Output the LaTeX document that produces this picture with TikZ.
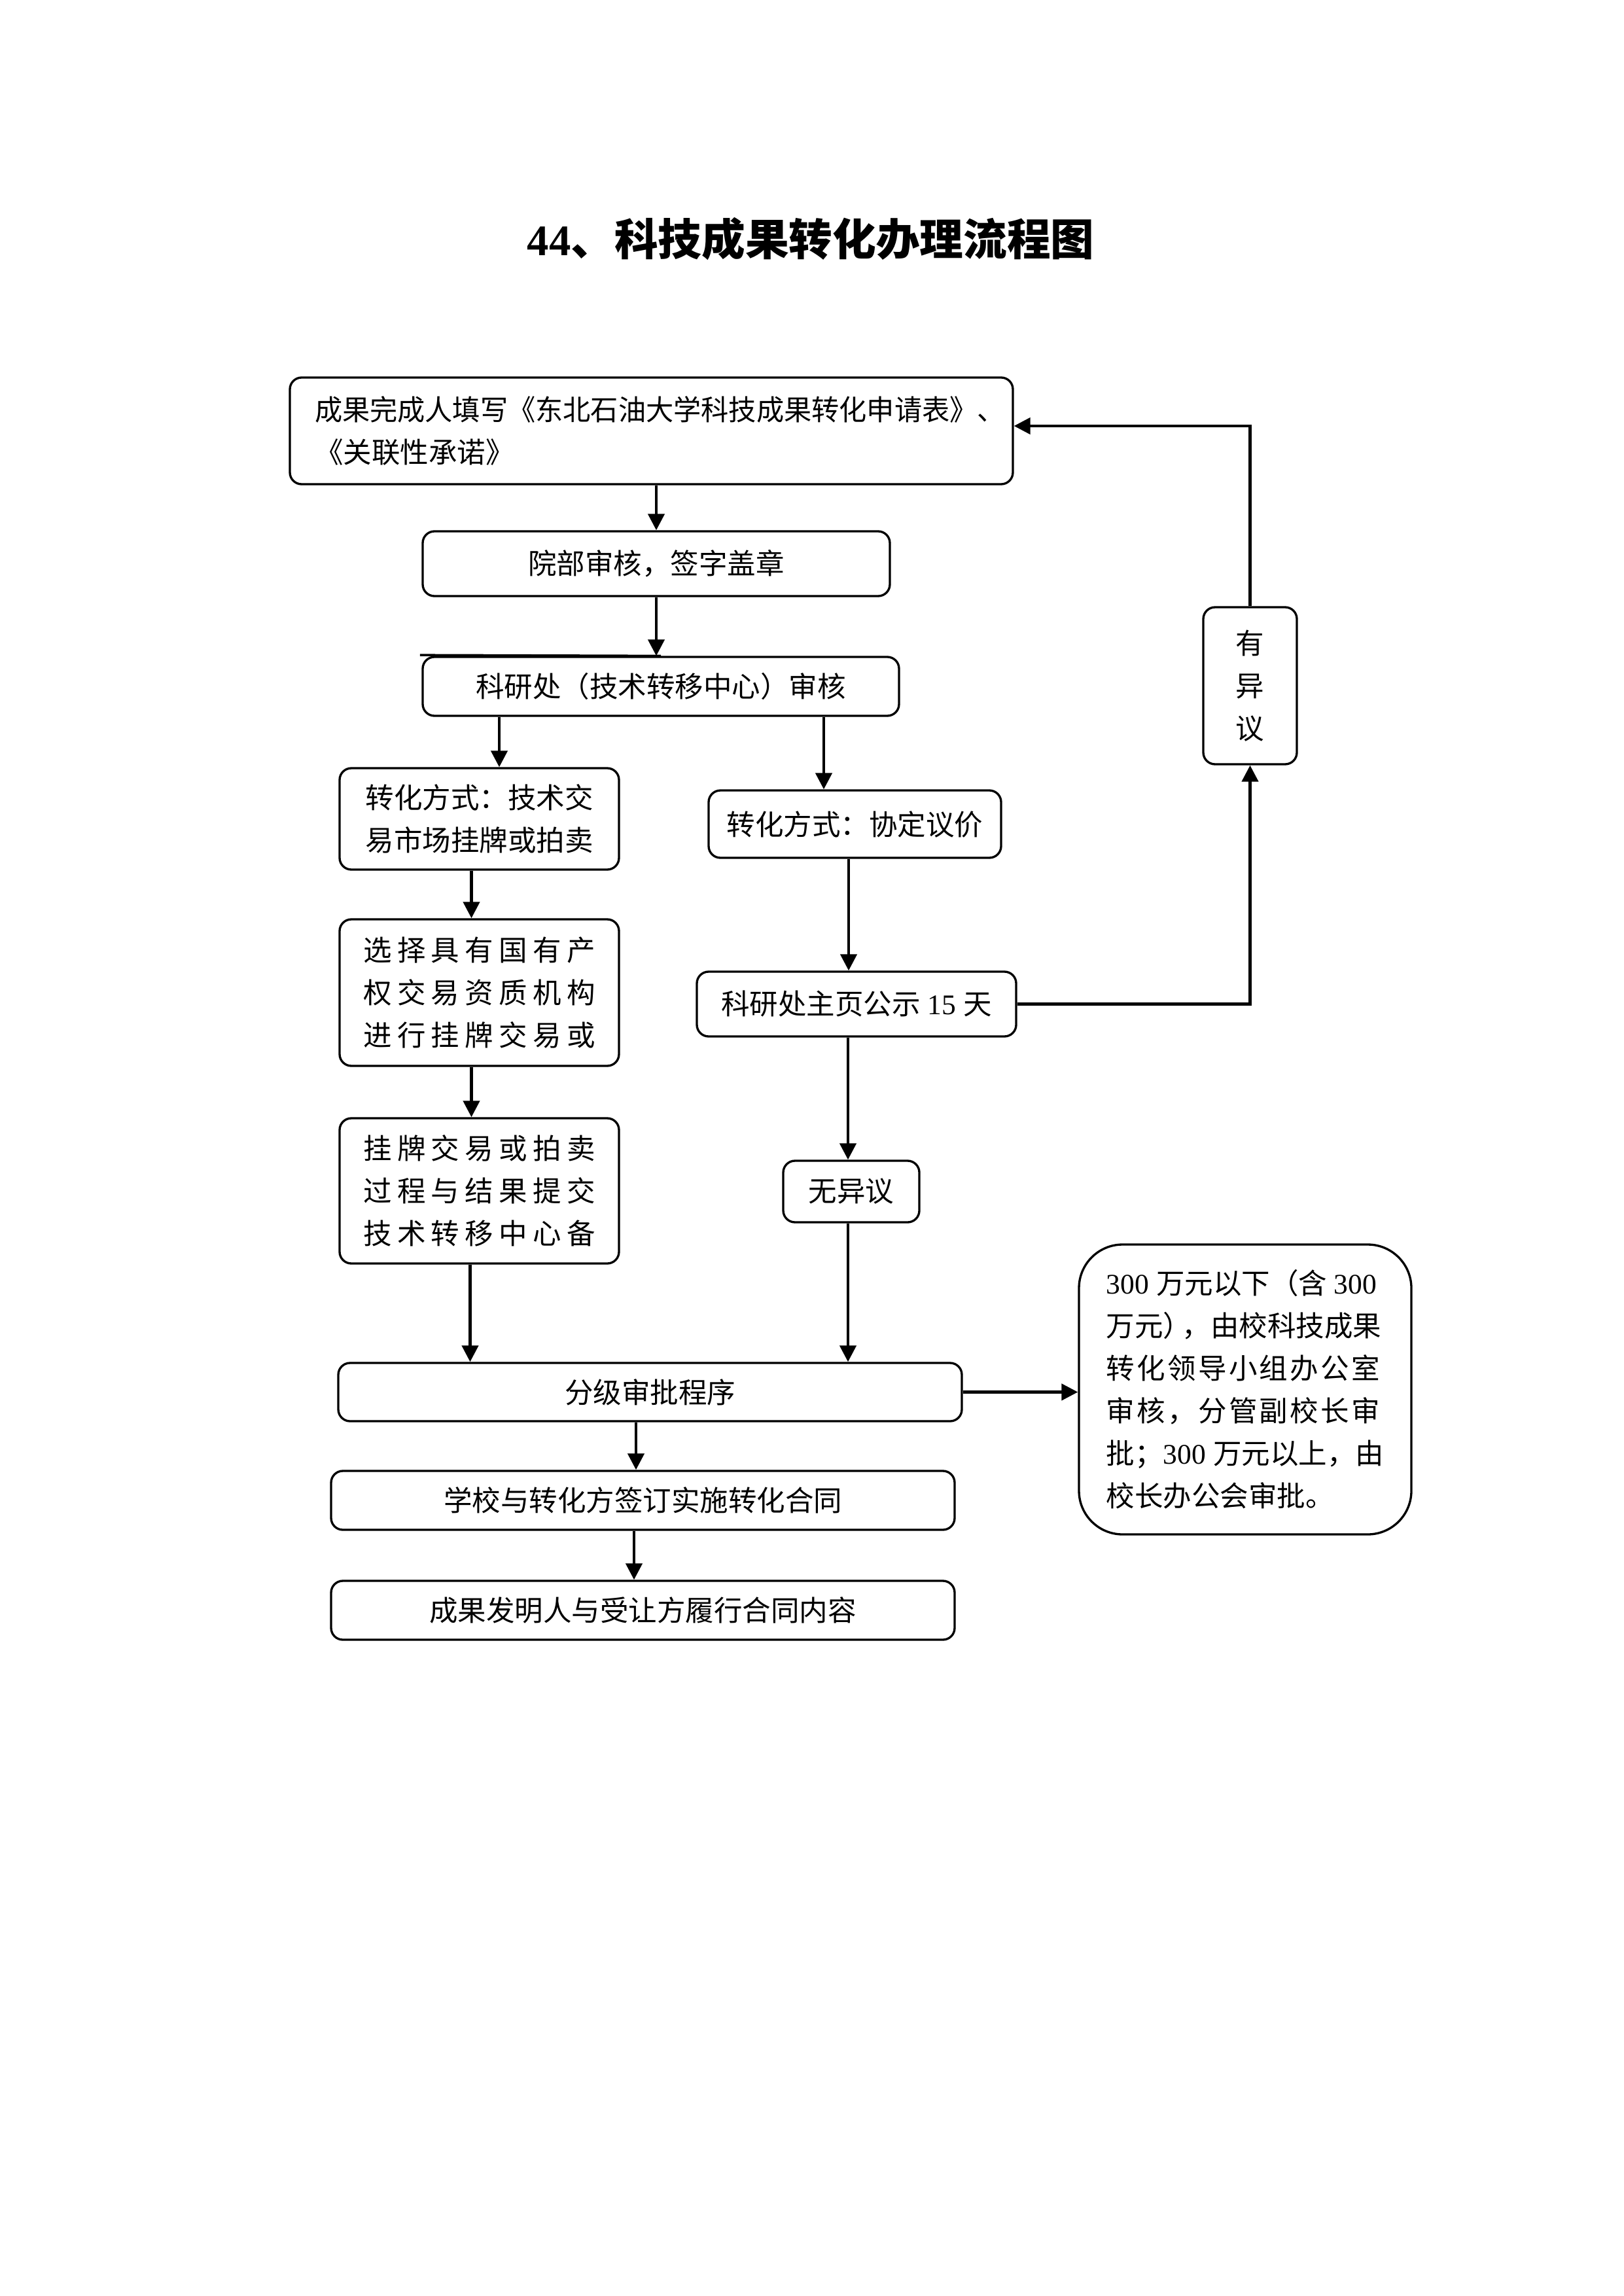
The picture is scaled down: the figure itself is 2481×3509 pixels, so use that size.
\documentclass[tikz,border=0pt]{standalone}
\usepackage{fontspec}
\setmainfont{Liberation Serif}
\newfontfamily\cjk{Noto Sans CJK SC}
\usetikzlibrary{arrows.meta}
\newcommand\nm[1]{{\rmfamily #1}}
\def\sprA#1{\ifx\relax#1\else#1\expandafter\sprB\fi}
\def\sprB#1{\ifx\relax#1\else\hfill#1\expandafter\sprB\fi}
\newcommand\spreadln[2]{\makebox[#1][l]{\sprA#2\relax}}
\tikzset{
  box/.style={draw, line width=0.8pt, rounded corners=4.3pt, inner sep=0pt,
    font=\cjk\fontsize{10.44pt}{15.6pt}\selectfont, align=center},
  arr/.style={line width=1.05pt, -{Triangle[length=6pt,width=6pt]}},
  title/.style={font=\cjk\bfseries\fontsize{16pt}{20pt}\selectfont},
}
\begin{document}
\begin{tikzpicture}[x=0.24pt,y=-0.24pt]
\useasboundingbox (0,0) rectangle (2481,3509);
\fill[white] (0,0) rectangle (2481,3509);

\node[title] (t) at (1239,365) {\nm{44}、科技成果转化办理流程图};

\node[box, minimum width=265.2pt, minimum height=39.12pt, text width=246.96pt,
      inner xsep=9.12pt, align=left] (b1) at (995.5,658.5)
  {\scalebox{0.97}[1]{成果完成人填写《东北石油大学科技成果转化申请表》、}\\《关联性承诺》};
\node[box, minimum width=171.36pt, minimum height=23.76pt] (b2) at (1003,861.5) {院部审核，签字盖章};
\node[box, minimum width=174.72pt, minimum height=21.6pt] (b3) at (1010,1049) {科研处（技术转移中心）审核};
\node[box, minimum width=102.48pt, minimum height=37.2pt] (b4) at (732.5,1251.5) {转化方式：技术交\\易市场挂牌或拍卖};
\node[box, minimum width=107.28pt, minimum height=24.72pt] (b5) at (1306.5,1259.5) {转化方式：协定议价};
\node[box, minimum width=102.48pt, minimum height=53.76pt] (b6) at (732.5,1517)
  {\spreadln{85pt}{选择具有国有产}\\\spreadln{85pt}{权交易资质机构}\\\spreadln{85pt}{进行挂牌交易或}};
\node[box, minimum width=117.12pt, minimum height=23.76pt] (b7) at (1309,1534.5) {科研处主页公示\nm{\ 15\ }天};
\node[box, minimum width=102.48pt, minimum height=53.28pt] (b8) at (732.5,1820)
  {\spreadln{85pt}{挂牌交易或拍卖}\\\spreadln{85pt}{过程与结果提交}\\\spreadln{85pt}{技术转移中心备}};
\node[box, minimum width=49.92pt, minimum height=22.56pt] (b9) at (1301,1821) {无异议};
\node[box, minimum width=228.72pt, minimum height=21.36pt] (b10) at (993.5,2127.5) {分级审批程序};
\node[box, minimum width=121.92pt, minimum height=106.32pt, rounded corners=16pt, align=left] (b11) at (1903,2123.5)
  {\nm{300\ }万元以下（含\nm{\ 300}\\
   万元）\kern-3.5pt，由校科技成果\\
   \spreadln{100.3pt}{转化领导小组办公室}\\
   \spreadln{100.3pt}{审核，分管副校长审}\\
   批；\nm{300\ }万元以上，由\\
   校长办公会审批。};
\node[box, minimum width=228.72pt, minimum height=21.6pt] (b12) at (982.5,2293) {学校与转化方签订实施转化合同};
\node[box, minimum width=228.72pt, minimum height=21.6pt] (b13) at (982.5,2461) {成果发明人与受让方履行合同内容};
\node[box, minimum width=34.32pt, minimum height=57.6pt] (b14) at (1910.5,1048) {有\\异\\议};

% stray straight top edge on b3
\draw[line width=0.8pt] ([xshift=-0.6pt,yshift=0.3pt]b3.north west) -- (b3.north);

% connectors
\draw[arr] (b2.north |- b1.south) -- (b2.north);
\draw[arr] (b2.south) -- (b2.south |- b3.north);
\coordinate (p34) at ([xshift=7.32pt]b4.north);
\draw[arr] (p34 |- b3.south) -- (p34);
\coordinate (p35) at ([xshift=-11.4pt]b5.north);
\draw[arr] (p35 |- b3.south) -- (p35);
\coordinate (p46) at ([xshift=-2.88pt]b6.north);
\draw[arr] (p46 |- b4.south) -- (p46);
\coordinate (p68) at ([xshift=-2.88pt]b8.north);
\draw[arr] (p68 |- b6.south) -- (p68);
\coordinate (p810) at ([xshift=-3.36pt]b8.south);
\draw[arr] (p810) -- (p810 |- b10.north);
\coordinate (p57) at ([xshift=-2.88pt]b7.north);
\draw[arr] (p57 |- b5.south) -- (p57);
\coordinate (p79) at ([xshift=-1.2pt]b9.north);
\draw[arr] (p79 |- b7.south) -- (p79);
\coordinate (p910) at ([xshift=-1.2pt]b9.south);
\draw[arr] (p910) -- (p910 |- b10.north);
\coordinate (p1012) at ([xshift=-2.52pt]b12.north);
\draw[arr] (p1012 |- b10.south) -- (p1012);
\coordinate (p1213) at ([xshift=-3.24pt]b13.north);
\draw[arr] (p1213 |- b12.south) -- (p1213);
\draw[arr] (b10.east) -- (b10.east -| b11.west);
\draw[arr] (b7.east) -- (b7.east -| b14.south) -- (b14.south);
\coordinate (p1) at ([yshift=1.8pt]b1.east);
\draw[arr] (b14.north) -- (b14.north |- p1) -- (p1);
\end{tikzpicture}
\end{document}
